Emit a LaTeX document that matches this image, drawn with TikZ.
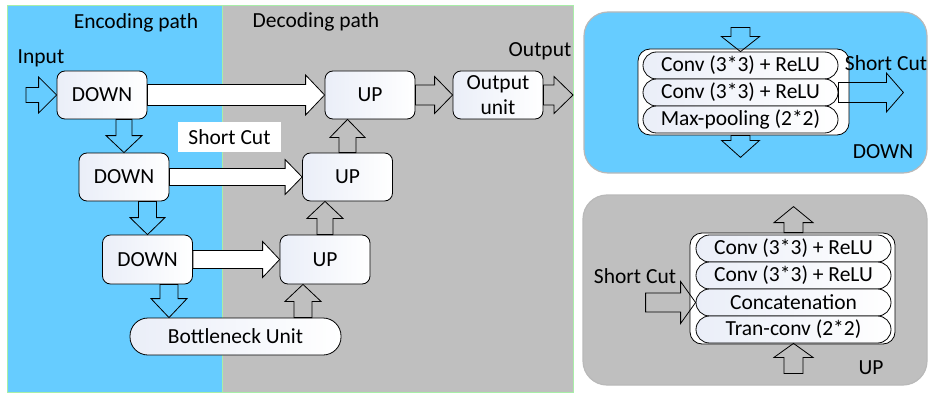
\documentclass[tikz,border=0pt]{standalone}
\usepackage{fontspec}
\setmainfont{Carlito}
\usetikzlibrary{calc}

\definecolor{encblue}{HTML}{66CCFF}
\definecolor{decgray}{HTML}{BFBFBF}
\definecolor{panelgreen}{HTML}{A8EEA8}
\definecolor{boxtint}{HTML}{EAEEF8}

\newcommand\mainfs{\fontsize{21.5pt}{25pt}\selectfont}

% block arrow: [style]{start}{tip}{shaft half-width}{head half-width}{head length}
\newcommand\barrow[6][blockarrow]{%
  \coordinate (ba-c) at ($(#3)!#6!(#2)$);
  \draw[#1] ($(#2)!#4!90:(#3)$) -- ($(ba-c)!#4!-90:(#2)$) -- ($(ba-c)!#5!-90:(#2)$)
    -- (#3) -- ($(ba-c)!#5!90:(#2)$) -- ($(ba-c)!#4!90:(#2)$) -- ($(#2)!#4!-90:(#3)$) -- cycle;}

\tikzset{
  unit/.style={draw=black, line width=0.8pt, rounded corners=8pt,
    minimum width=90pt, minimum height=48pt, inner sep=0pt,
    shading=axis, shading angle=45, left color=boxtint, right color=white,
    font=\mainfs, align=center},
  pill/.style={draw=black, line width=0.8pt, rounded corners=13.5pt,
    minimum width=195pt, minimum height=27pt, inner sep=0pt,
    left color=boxtint, right color=white, font=\mainfs},
  holder/.style={draw=black, line width=0.8pt, rounded corners=12pt, fill=white, inner sep=0pt},
  blockarrow/.style={draw=black, line width=0.8pt, line join=miter},
  skiparrow/.style={blockarrow, fill=white},
  lbl/.style={font=\mainfs, inner sep=0pt},
  panel/.style={draw=gray!55, line width=1.2pt, rounded corners=24pt},
}

\begin{document}
\begin{tikzpicture}[x=1pt,y=-1pt]
\useasboundingbox (0,0) rectangle (928,393);

% ---- overall network: encoding / decoding halves
\path[draw=panelgreen, line width=0.8pt, fill=encblue] (7,5) rectangle (222,392);
\path[draw=panelgreen, line width=0.8pt, fill=decgray] (222,5) rectangle (573,392);

\node[lbl] (enc) at (136,23) {Encoding path};
\node[lbl] (dec) at (316,22) {Decoding path};
\node[lbl] (inlbl) at (41,58) {Input};
\node[lbl] (outlbl) at (540,51) {Output};

\node[unit] (D1) at (102,95) {DOWN};
\node[unit] (U1) at (370,95) {UP};
\node[unit] (O)  at (498,95) {Output\\unit};
\node[unit] (D2) at (124,177) {DOWN};
\node[unit] (U2) at (347.5,177) {UP};
\node[unit, minimum height=49pt] (D3) at (147.5,259.5) {DOWN};
\node[unit, minimum height=49pt] (U3) at (325,259.5) {UP};
\node[unit, minimum width=211pt, minimum height=37pt, rounded corners=18pt] (B) at (235.5,336.5) {Bottleneck Unit};

\node[lbl, fill=white, minimum width=103pt, minimum height=30pt] (sc) at (229.5,137) {Short Cut};

\coordinate (inp) at (26,95);
\coordinate (outtip) at (573,95);
\barrow{inp}{D1.west}{7.5pt}{18pt}{18pt}
\barrow[skiparrow]{D1.east}{U1.west}{10.5pt}{20pt}{19pt}
\barrow{U1.east}{O.west}{10pt}{18.5pt}{18pt}
\barrow{O.east}{outtip}{10pt}{18.5pt}{19pt}

\coordinate (d12) at (D2.north |- D1.south);
\barrow{d12}{D2.north}{8pt}{18pt}{17pt}
\barrow[skiparrow]{D2.east}{U2.west}{8.5pt}{17.5pt}{17pt}
\coordinate (d23) at (D3.north |- D2.south);
\barrow{d23}{D3.north}{9pt}{17.5pt}{17pt}
\barrow[skiparrow]{D3.east}{U3.west}{9pt}{18pt}{17pt}

\coordinate (d3b) at ($(D3.south)+(21.5,0)$);
\coordinate (d3bt) at (d3b |- B.north);
\barrow{d3b}{d3bt}{9pt}{18pt}{19pt}
\coordinate (bu3t) at ($(U3.south)+(-22,0)$);
\coordinate (bu3s) at (bu3t |- B.north);
\barrow{bu3s}{bu3t}{9pt}{18pt}{17pt}
\coordinate (u32) at (U3.north |- U2.south);
\barrow{U3.north}{u32}{8pt}{18pt}{17pt}
\coordinate (u21) at (U2.north |- U1.south);
\barrow{U2.north}{u21}{8.5pt}{17.5pt}{18pt}

% ---- DOWN block detail
\path[panel, fill=encblue] (584,12) rectangle (927,173);
\node[holder, minimum width=211pt, minimum height=86pt] (dcont) at (743.5,92) {};
\node[pill] (r1) at (740.5,65.5) {Conv (3*3) + ReLU};
\node[pill] (r2) at (740.5,92.5) {Conv (3*3) + ReLU};
\node[pill] (r3) at (740.5,119.5) {Max-pooling (2*2)};
\node[lbl] (dsclbl) at (886,63) {Short Cut};
\node[lbl] (dname) at (883,152) {DOWN};

\coordinate (dtop) at ($(r1.north)+(0,-24)$);
\barrow{dtop}{r1.north}{9.5pt}{19pt}{15pt}
\coordinate (dbs) at (r3.south |- dcont.south);
\coordinate (dbot) at ($(dbs)+(0,22)$);
\barrow{dbs}{dbot}{9.5pt}{19pt}{17pt}
\coordinate (dsc) at ($(r2.east)+(65,0)$);
\barrow{r2.east}{dsc}{10pt}{19.5pt}{17pt}

% ---- UP block detail
\path[panel, fill=decgray] (583,195) rectangle (927,385);
\node[holder, minimum width=205pt, minimum height=111pt] (ucont) at (792.5,288.5) {};
\node[pill] (u1) at (793.5,248.5) {Conv (3*3) + ReLU};
\node[pill] (u2) at (793.5,275.5) {Conv (3*3) + ReLU};
\node[pill] (u3) at (793.5,302.5) {Concatenation};
\node[pill] (u4) at (793.5,329.5) {Tran-conv (2*2)};
\node[lbl] (usclbl) at (635,276) {Short Cut};
\node[lbl] (uname) at (871,368) {UP};

\coordinate (uts) at (u1.north |- ucont.north);
\coordinate (utop) at ($(uts)+(0,-26)$);
\barrow{uts}{utop}{9.5pt}{19.5pt}{16pt}
\coordinate (ubot) at ($(u4.south)+(0,30)$);
\barrow{ubot}{u4.south}{9.5pt}{19.5pt}{14pt}
\coordinate (usc) at ($(u3.west)+(-50,0)$);
\barrow{usc}{u3.west}{9.5pt}{21pt}{15pt}
\end{tikzpicture}
\end{document}
